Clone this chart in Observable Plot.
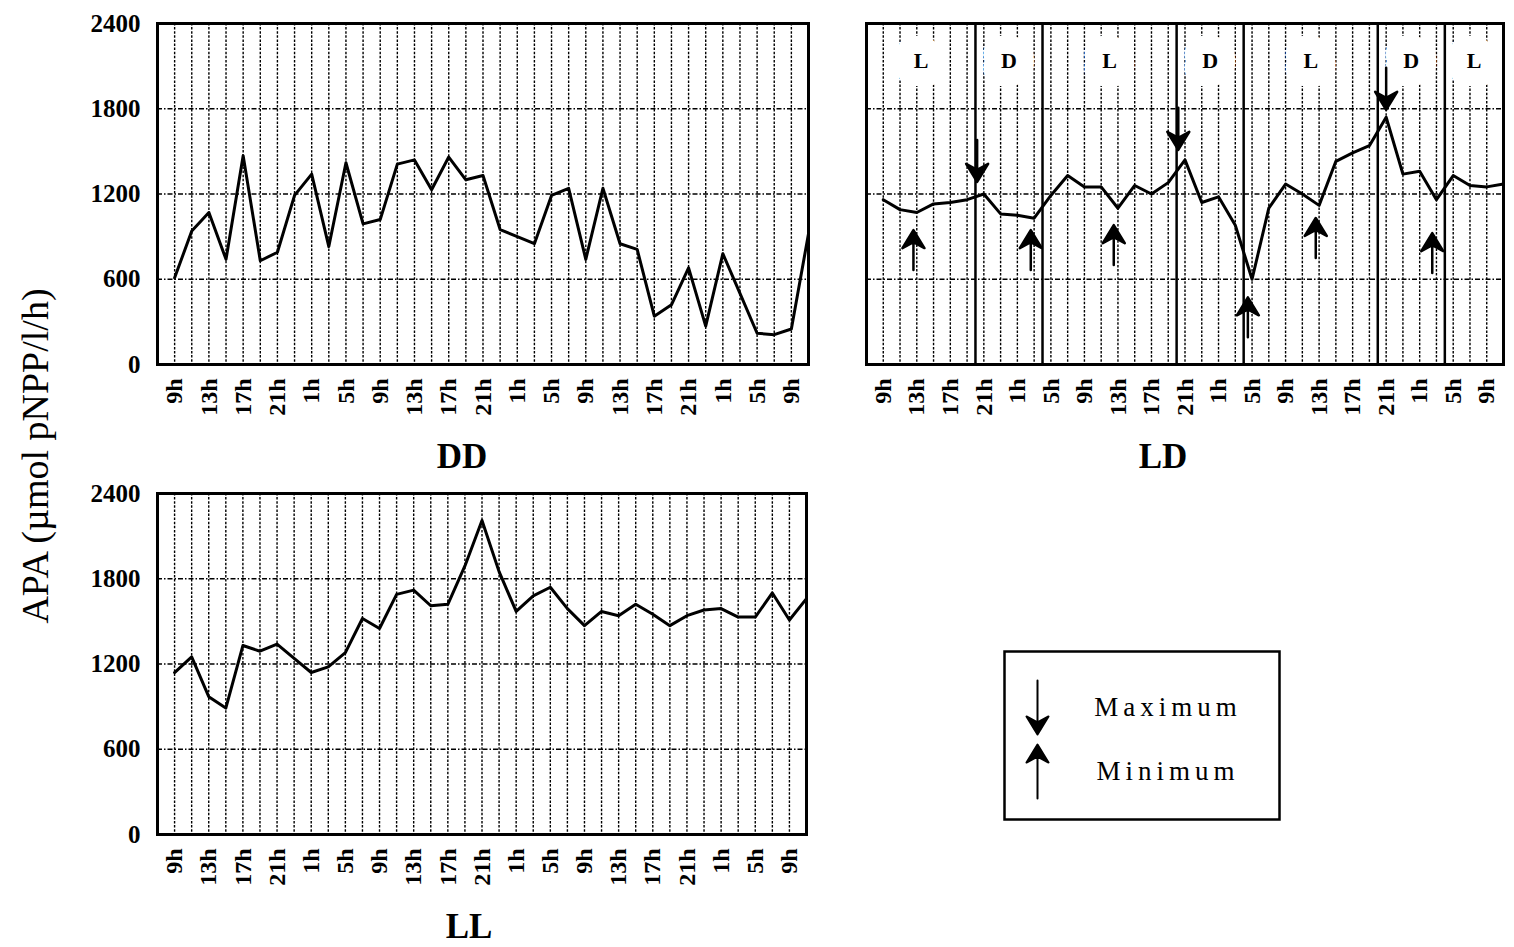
<!DOCTYPE html>
<html>
<head>
<meta charset="utf-8">
<script src="https://cdn.jsdelivr.net/npm/d3@7"></script>
<script src="https://cdn.jsdelivr.net/npm/@observablehq/plot@0.6"></script>
<style>
  body { margin: 0; background: #fff; }
  #fig { position: relative; width: 1514px; height: 947px; font-family: "Liberation Serif", "Times New Roman", serif; color: #000; }
  #fig .panel { position: absolute; }
  #ytitle { position: absolute; left: 35px; top: 456px; transform: translate(-50%, -50%) rotate(-90deg); font-size: 38px; white-space: nowrap; font-family: "Liberation Serif", serif; }
</style>
</head>
<body>
<div id="fig">
  <div id="ytitle">APA (µmol pNPP/l/h)</div>
</div>
<script>
// ---- data (hours after 9h of day 1, every 2 h) ----
const hours = [0,2,4,6,8,10,12,14,16,18,20,22,24,26,28,30,32,34,36,38,40,42,44,46,48,50,52,54,56,58,60,62,64,66,68,70,72,74];
const tickHours = [0,4,8,12,16,20,24,28,32,36,40,44,48,52,56,60,64,68,72];
const tickLabels = ["9h","13h","17h","21h","1h","5h","9h","13h","17h","21h","1h","5h","9h","13h","17h","21h","1h","5h","9h"];
const yTicks = [0, 600, 1200, 1800, 2400];
const yGrid = [600, 1200, 1800];

const ddValues = [610,940,1070,740,1470,730,790,1190,1340,830,1420,990,1020,1410,1440,1230,1460,1300,1330,950,900,850,1190,1240,740,1240,850,810,340,420,680,270,780,500,220,210,250,920];
const ldValues = [1160,1090,1070,1130,1140,1160,1200,1060,1050,1030,1190,1330,1250,1250,1100,1260,1200,1280,1440,1140,1180,980,600,1100,1270,1200,1120,1430,1490,1540,1740,1340,1360,1160,1330,1260,1250,1270];
const llValues = [1140,1250,970,890,1330,1290,1340,1240,1140,1180,1280,1520,1450,1690,1720,1610,1620,1890,2210,1850,1570,1680,1740,1590,1470,1570,1540,1620,1550,1470,1540,1580,1590,1530,1530,1700,1510,1660];

// LD light/dark schedule
const ldBoundaries = [11, 19, 35, 43, 59, 67];
const ldPhaseNames = ["L","D","L","D","L","D","L"];
const ldPhaseStart = [-2, 11, 19, 35, 43, 59, 67];
const ldPhaseEnd   = [11, 19, 35, 43, 59, 67, 74];

// LD annotations: maxima (down arrows) and minima (up arrows), arrow tip positions
const maxHours  = [11.2, 35.2, 60.0];
const maxValues = [1285, 1511, 1793];
const minHours  = [3.6, 17.6, 27.5, 43.5, 51.6, 65.5];
const minValues = [946, 946, 981, 473, 1031, 925];

const legendLabels = ["Maximum", "Minimum"];
const legendRotate = [180, 0];

// ---- helpers ----
const FONT = "Liberation Serif, Times New Roman, serif";
const toRows = (vals) => hours.map((h, i) => ({h, v: vals[i]}));
const gridHours = hours.filter(h => h <= 72);

// barbed arrow shape for Plot.vector (drawn pointing up, tip at -l)
const barbArrow = {
  draw(ctx, l) {
    const hw = 11, hl = 18, notch = 6;
    ctx.moveTo(0, 0);
    ctx.lineTo(0, -l + hl - notch);
    ctx.moveTo(0, -l);
    ctx.lineTo(hw, -l + hl);
    ctx.lineTo(0, -l + hl - notch);
    ctx.lineTo(-hw, -l + hl);
    ctx.closePath();
  }
};

function panel({values, showY, title, titleDx, width, height, ml, mr, extra = [], over = []}) {
  return Plot.plot({
    width, height,
    marginLeft: ml, marginRight: mr, marginTop: 23, marginBottom: height - 23 - 341,
    style: {background: "transparent", overflow: "visible", fontFamily: FONT, color: "#000"},
    x: {domain: [-2, 74]},
    y: {domain: [0, 2400], axis: showY ? undefined : null},
    marks: [
      Plot.ruleX(gridHours, {stroke: "#000", strokeWidth: 1.4, strokeDasharray: "2.5,1.6"}),
      Plot.ruleY(yGrid, {stroke: "#000", strokeWidth: 1.4, strokeDasharray: "5,2,1.5,2"}),
      ...extra,
      Plot.line(toRows(values), {x: "h", y: "v", stroke: "#000", strokeWidth: 3}),
      ...over,
      Plot.axisX({ticks: tickHours, tickSize: 0, tickPadding: 14, tickRotate: -90,
        tickFormat: d => tickLabels[tickHours.indexOf(d)], fontSize: 24, fontWeight: "bold", label: null}),
      ...(showY ? [Plot.axisY({ticks: yTicks, tickSize: 0, tickPadding: 17, tickFormat: d => String(d),
        fontSize: 25, fontWeight: "bold", label: null})] : []),
      Plot.frame({stroke: "#000", strokeWidth: 3}),
      Plot.text([title], {frameAnchor: "bottom", lineAnchor: "middle", dy: 92, dx: titleDx, fontSize: 35, fontWeight: "bold", fill: "#000"})
    ]
  });
}

const fig = document.getElementById("fig");
function place(node, left, top) {
  node.classList.add("panel");
  node.style.left = left + "px";
  node.style.top = top + "px";
  fig.appendChild(node);
}

// DD
place(panel({values: ddValues, showY: true, title: "DD", titleDx: -21, width: 830, height: 470, ml: 157, mr: 22}), 0, 0);

// LD
const phases = ldPhaseNames.map((n, i) => ({name: n, mid: (ldPhaseStart[i] + ldPhaseEnd[i]) / 2}));
const maxArrows = maxHours.map((h, i) => ({h, v: maxValues[i]}));
const minArrows = minHours.map((h, i) => ({h, v: minValues[i]}));
place(panel({
  values: ldValues, showY: false, title: "LD", titleDx: -22, width: 664, height: 470, ml: 16, mr: 11,
  extra: [
    Plot.ruleX(ldBoundaries, {stroke: "#000", strokeWidth: 2.5}),
    Plot.text(phases, {x: "mid", text: "name", frameAnchor: "top", lineAnchor: "middle", dy: 37, fontSize: 22, fontWeight: "bold",
      fill: "#000", stroke: "white", strokeWidth: 36, strokeLinejoin: "round", paintOrder: "stroke"})
  ],
  over: [
    Plot.vector(maxArrows, {x: "h", y: "v", rotate: 180, anchor: "end", length: 42, shape: barbArrow,
      stroke: "#000", fill: "#000", strokeWidth: 2.5}),
    Plot.vector(minArrows, {x: "h", y: "v", rotate: 0, anchor: "end", length: 40, shape: barbArrow,
      stroke: "#000", fill: "#000", strokeWidth: 2.5})
  ]
}), 850, 0);

// LL
place(panel({values: llValues, showY: true, title: "LL", titleDx: -13, width: 830, height: 477, ml: 157, mr: 24}), 0, 470);

// Legend
const legendItems = legendLabels.map((label, i) => ({label, rotate: legendRotate[i]}));
const legend = Plot.plot({
  width: 277, height: 170, margin: 0,
  style: {background: "transparent", overflow: "visible", fontFamily: FONT, letterSpacing: "5px", color: "#000"},
  x: {axis: null},
  y: {type: "point", domain: legendLabels, range: [57, 121], padding: 0, axis: null},
  marks: [
    Plot.frame({stroke: "#000", strokeWidth: 2.5, inset: 1}),
    Plot.vector(legendItems, {y: "label", frameAnchor: "left", dx: 34, length: 54, anchor: "middle",
      rotate: "rotate", shape: barbArrow, stroke: "#000", fill: "#000", strokeWidth: 2}),
    Plot.text(legendItems, {y: "label", text: "label", frameAnchor: "middle", dx: 26, fontSize: 27, fill: "#000"})
  ]
});
place(legend, 1003, 650);
</script>
</body>
</html>
